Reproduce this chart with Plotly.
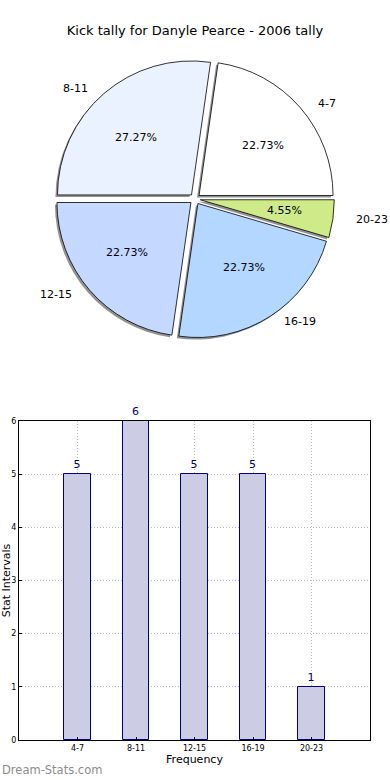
import math
import plotly.graph_objects as go

# ---- data ----
categories = ["4-7", "8-11", "12-15", "16-19", "20-23"]
counts = [5, 6, 5, 5, 1]
pie_colors = ["#FFFFFF", "#EBF2FF", "#C5D8FF", "#B3D7FF", "#CFEB89"]
y_ticks = [0, 1, 2, 3, 4, 5, 6]

title_text = "Kick tally for Danyle Pearce - 2006 tally"
W, H = 390, 780
FONT = "DejaVu Sans"

# ---- pie layout constants (pixels) ----
CX, CY, R = 195, 199, 134
RX, RY = 141, 128   # text placement radii
PULL = 0.04
half = R * (1 + PULL)
total = sum(counts)
# first slice starts at 3 o'clock and runs counterclockwise (plotly: rotation = end of first slice)
ROT = 90 - 360 * counts[0] / total

def dom(cx, cy):
    return dict(x=[(cx - half) / W, (cx + half) / W],
                y=[1 - (cy + half) / H, 1 - (cy - half) / H])

fig = go.Figure()

# shadow
fig.add_trace(go.Pie(
    labels=categories, values=counts, sort=False, direction="counterclockwise",
    rotation=ROT, pull=[PULL] * len(counts), domain=dom(CX - 2, CY + 2),
    marker=dict(colors=["rgba(110,110,110,0.75)"] * len(counts), line=dict(width=0)),
    textinfo="none", hoverinfo="skip", showlegend=False))

fig.add_trace(go.Pie(
    labels=categories, values=counts, sort=False, direction="counterclockwise",
    rotation=ROT, pull=[PULL] * len(counts), domain=dom(CX, CY),
    marker=dict(colors=pie_colors, line=dict(color="black", width=0.8)),
    textinfo="none", showlegend=False))

annotations = []
start = 0.0
for lab, v in zip(categories, counts):
    frac = v / total
    mid = math.radians((start + frac / 2) * 360)
    start += frac
    ex = CX + PULL * RX * math.cos(mid)
    ey = CY - PULL * RY * math.sin(mid)
    px = ex + 0.6 * RX * math.cos(mid)
    py = ey - 0.6 * RY * math.sin(mid)
    annotations.append(dict(x=px / W, y=1 - py / H, xref="paper", yref="paper",
                            text=f"{frac*100:.2f}%", showarrow=False,
                            font=dict(family=FONT, size=11, color="black"),
                            xanchor="center", yanchor="middle"))
    lx = ex + 1.1 * RX * math.cos(mid)
    ly = ey - 1.1 * RY * math.sin(mid)
    annotations.append(dict(x=lx / W, y=1 - ly / H, xref="paper", yref="paper",
                            text=lab, showarrow=False,
                            font=dict(family=FONT, size=11, color="black"),
                            xanchor="left" if math.cos(mid) >= 0 else "right",
                            yanchor="middle"))

# ---- bar chart ----
fig.add_trace(go.Bar(
    x=list(range(len(categories))), y=counts, width=0.45,
    marker=dict(color="#CCCCE5", line=dict(color="#000080", width=1)),
    text=[str(c) for c in counts], textposition="outside",
    textfont=dict(family=FONT, size=11, color="#000080"),
    cliponaxis=False, showlegend=False, xaxis="x", yaxis="y"))

annotations.append(dict(x=0, y=1 - 770 / H, xref="paper", yref="paper",
                        text="Dream-Stats.com", showarrow=False,
                        font=dict(family=FONT, size=11.5, color="#8C8C8C"),
                        xanchor="left", yanchor="middle"))

grid = dict(showgrid=True, gridcolor="#BBBBBB", griddash="1px,2px", gridwidth=1,
            showline=True, linecolor="black", linewidth=1, mirror=True,
            ticks="inside", ticklen=3, tickcolor="black", zeroline=False,
            automargin=False, tickfont=dict(family=FONT, size=8))

fig.update_layout(
    width=W, height=H, margin=dict(l=0, r=0, t=0, b=0),
    paper_bgcolor="white", plot_bgcolor="white",
    font=dict(family=FONT, color="black"),
    title=dict(text=title_text, x=0.5, xanchor="center", y=1 - 30 / H,
               yanchor="middle", yref="container",
               font=dict(family=FONT, size=13, color="black")),
    annotations=annotations,
    xaxis=dict(domain=[19 / W, 370 / W], range=[-1, 5],
               tickmode="array", tickvals=list(range(len(categories))),
               ticktext=categories,
               title=dict(text="Frequency", font=dict(family=FONT, size=11), standoff=2),
               anchor="y", **grid),
    yaxis=dict(domain=[1 - 740 / H, 1 - 421 / H], range=[0, 6],
               tickmode="array", tickvals=y_ticks,
               title=dict(text="Stat Intervals", font=dict(family=FONT, size=11), standoff=0),
               anchor="x", **grid),
    bargap=0,
)

fig.write_html("out.html", config={"displayModeBar": False},
               post_script="document.body.style.margin='0';document.body.style.overflow='hidden';")
